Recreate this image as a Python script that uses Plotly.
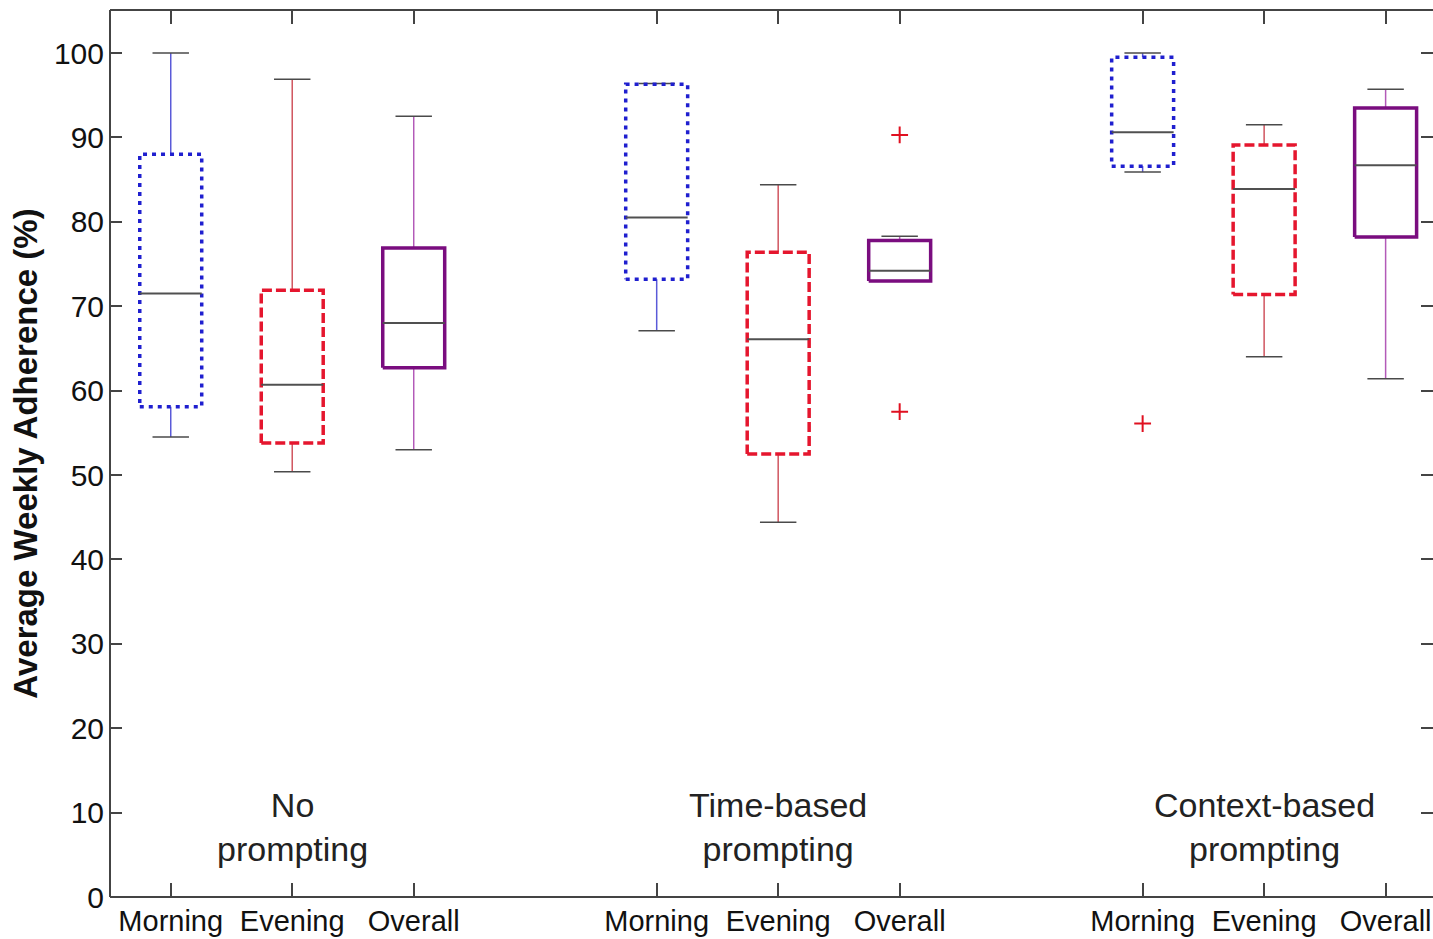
import plotly.graph_objects as go

# Box-plot summaries: adherence (%) per prompting condition and time of day
positions = [1, 2, 3, 5, 6, 7, 9, 10, 11]
tick_labels = ["Morning", "Evening", "Overall"] * 3
lower_whisker = [54.5, 50.4, 53.0, 67.1, 44.4, 73.0, 85.9, 64.0, 61.4]
q1 = [58.1, 53.8, 62.7, 73.2, 52.5, 73.0, 86.6, 71.4, 78.2]
median = [71.5, 60.7, 68.0, 80.5, 66.1, 74.2, 90.6, 83.9, 86.7]
q3 = [88.0, 71.9, 76.9, 96.3, 76.4, 77.8, 99.5, 89.1, 93.5]
upper_whisker = [100.0, 96.9, 92.5, 96.4, 84.4, 78.3, 100.0, 91.5, 95.7]
outlier_x = [7, 7, 9]
outlier_y = [90.3, 57.5, 56.1]
group_labels = ["No<br>prompting", "Time-based<br>prompting", "Context-based<br>prompting"]
group_centers = [2, 6, 10]

kind_style = {
    "Morning": dict(edge="#1f1fcf", whisker="#5a5ad8", dash="4px,5px"),
    "Evening": dict(edge="#e5162e", whisker="#d0555f", dash="10px,4px"),
    "Overall": dict(edge="#7a0d7f", whisker="#b35ab8", dash="solid"),
}

BOX_HALF = 0.255
CAP_HALF = 0.15

fig = go.Figure()

for x, lab, lo, a, m, b, hi in zip(positions, tick_labels, lower_whisker, q1, median, q3, upper_whisker):
    st = kind_style[lab]
    # whiskers
    fig.add_trace(go.Scatter(
        x=[x, x, None, x, x], y=[b, hi, None, a, lo], mode="lines",
        line=dict(color=st["whisker"], width=1.5), hoverinfo="skip", showlegend=False))
    # whisker caps
    fig.add_trace(go.Scatter(
        x=[x - CAP_HALF, x + CAP_HALF, None, x - CAP_HALF, x + CAP_HALF],
        y=[hi, hi, None, lo, lo], mode="lines",
        line=dict(color="#4a4a4a", width=1.5), hoverinfo="skip", showlegend=False))
    # box outline
    fig.add_trace(go.Scatter(
        x=[x - BOX_HALF, x + BOX_HALF, x + BOX_HALF, x - BOX_HALF, x - BOX_HALF],
        y=[a, a, b, b, a], mode="lines",
        line=dict(color=st["edge"], width=3.5, dash=st["dash"]),
        hoverinfo="skip", showlegend=False))
    # median
    fig.add_trace(go.Scatter(
        x=[x - BOX_HALF, x + BOX_HALF], y=[m, m], mode="lines",
        line=dict(color="#505050", width=2), hoverinfo="skip", showlegend=False))

fig.add_trace(go.Scatter(
    x=outlier_x, y=outlier_y, mode="markers",
    marker=dict(symbol="cross-thin-open", size=12, color="#e01020",
                line=dict(color="#e01020", width=2)),
    hoverinfo="skip", showlegend=False))

for cx, txt in zip(group_centers, group_labels):
    fig.add_annotation(x=cx, y=8.3, text=txt, showarrow=False,
                       font=dict(family="Liberation Sans, Arial", size=34, color="#222222"))

# frame lines (left, bottom, top)
frame = dict(color="#444444", width=2)
fig.add_shape(type="line", xref="paper", yref="paper", x0=0, x1=0, y0=0, y1=1, line=frame)
fig.add_shape(type="line", xref="paper", yref="paper", x0=0, x1=1, y0=0, y1=0, line=frame)
fig.add_shape(type="line", xref="paper", yref="paper", x0=0, x1=1, y0=1, y1=1, line=frame)

fig.update_xaxes(
    range=[0.5, 11.39], tickmode="array", tickvals=positions, ticktext=tick_labels,
    ticks="inside", ticklen=14, tickwidth=2, tickcolor="#444444", mirror="ticks",
    showline=False, showgrid=False, zeroline=False, ticklabelstandoff=4,
    tickfont=dict(family="Liberation Sans, Arial", size=29, color="#111111"))
fig.update_yaxes(
    range=[0, 105.1], tickmode="array", tickvals=list(range(0, 101, 10)),
    ticks="inside", ticklen=12, tickwidth=2, tickcolor="#444444", mirror="ticks",
    showline=False, showgrid=False, zeroline=False, ticklabelstandoff=5,
    tickfont=dict(family="Liberation Sans, Arial", size=30, color="#111111"),
    title=dict(text="<b>Average Weekly Adherence (%)</b>", standoff=6,
               font=dict(family="Liberation Sans, Arial", size=33, color="#111111")))

fig.update_layout(
    width=1433, height=939, paper_bgcolor="white", plot_bgcolor="white",
    margin=dict(l=110, r=0, t=10, b=42))

fig.write_html("out.html")
